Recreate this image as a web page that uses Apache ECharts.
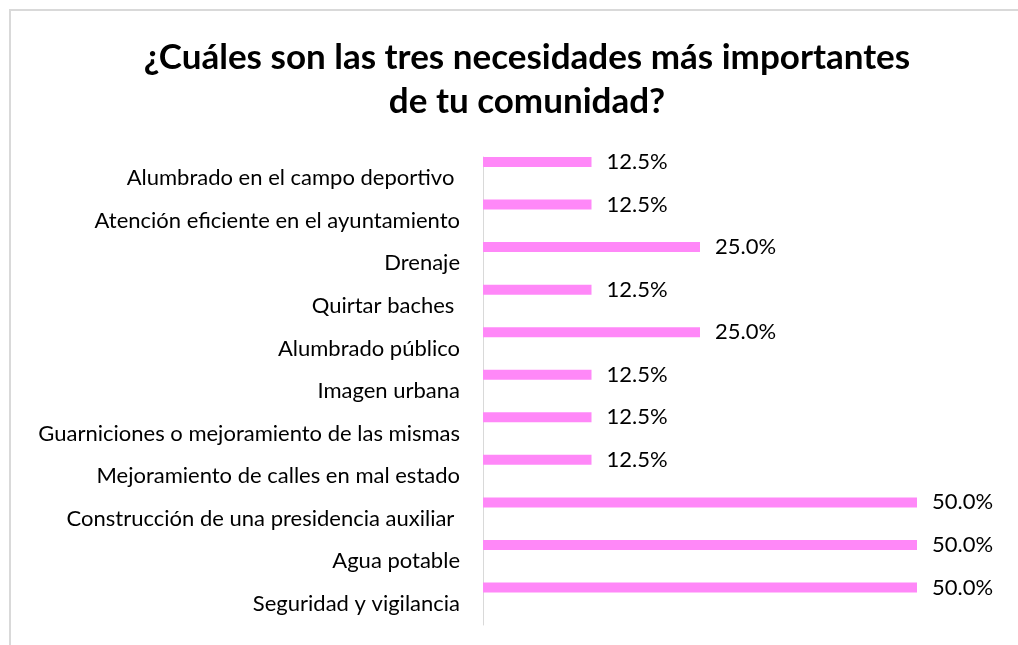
<!DOCTYPE html>
<html>
<head>
<meta charset="utf-8">
<script src="https://cdn.jsdelivr.net/npm/echarts@6/dist/echarts.min.js"></script>
<style>
  html, body { margin: 0; padding: 0; background: #fff; }
  #chart { position: absolute; left: 9px; top: 9px; width: 1100px; height: 700px;
           border-left: 2px solid #d9d9d9; border-top: 2px solid #d9d9d9; box-sizing: border-box; }
  #wrap { position: relative; width: 1018px; height: 645px; overflow: hidden; }
</style>
</head>
<body>
<div id="wrap"><div id="chart"></div></div>
<script>
// categorías, de arriba hacia abajo
const categories = [
  'Alumbrado en el campo deportivo ',
  'Atención eficiente en el ayuntamiento',
  'Drenaje',
  'Quirtar baches ',
  'Alumbrado público',
  'Imagen urbana',
  'Guarniciones o mejoramiento de las mismas',
  'Mejoramiento de calles en mal estado',
  'Construcción de una presidencia auxiliar ',
  'Agua potable',
  'Seguridad y vigilancia'
];
// porcentaje de respuestas
const values = [12.5, 12.5, 25.0, 12.5, 25.0, 12.5, 12.5, 12.5, 50.0, 50.0, 50.0];

const FONT = 'Lato';
const chart = echarts.init(document.getElementById('chart'));

// el div empieza en (9,9), así que restamos eso a las posiciones
chart.setOption({
  animation: false,
  title: {
    text: '¿Cuáles son las tres necesidades más importantes\nde tu comunidad?',
    left: 511, top: 20,
    textAlign: 'center',
    textStyle: { fontFamily: FONT, fontWeight: 'bold', fontSize: 35, lineHeight: 44, color: '#000' }
  },
  grid: { left: 472, top: 146, width: 434, height: 468 },
  xAxis: {
    type: 'value', min: 0, max: 50, show: false
  },
  yAxis: {
    type: 'category',
    data: categories,
    inverse: true,
    axisLine: { show: true, lineStyle: { color: '#d9d9d9', width: 1 } },
    axisTick: { show: false },
    axisLabel: { margin: 23, fontFamily: FONT, fontSize: 22, color: '#000' }
  },
  series: [
    {
      type: 'bar',
      data: values,
      barWidth: 10,
      barGap: '225%',
      itemStyle: { color: '#FF88F8' },
      label: {
        show: true, position: 'right', distance: 15,
        fontFamily: FONT, fontSize: 22, color: '#000',
        formatter: p => p.value.toFixed(1) + '%'
      }
    },
    {
      type: 'bar',
      data: values.map(() => null),
      barWidth: 10
    }
  ]
});
</script>
</body>
</html>
